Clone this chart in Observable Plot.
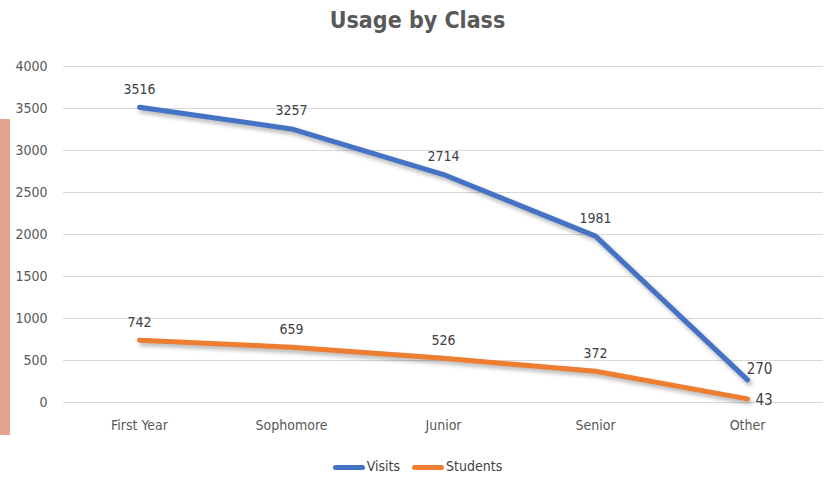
<!DOCTYPE html>
<html>
<head>
<meta charset="utf-8">
<script src="https://cdn.jsdelivr.net/npm/d3@7"></script>
<script src="https://cdn.jsdelivr.net/npm/@observablehq/plot@0.6"></script>
<style>
  body { margin: 0; background: #fff; width: 835px; height: 479px; overflow: hidden; position: relative;
         font-family: "DejaVu Sans Condensed", "Liberation Sans Narrow", sans-serif; }
  #title { height: 40px; line-height: 40px; text-align: center; font-size: 23px; font-weight: bold; color: #595959; }
  #bar { position: absolute; left: 0; top: 119px; width: 10px; height: 316px; background: #E5A191; }
  #legend { position: absolute; top: 458px; left: 0; width: 835px; text-align: center; font-size: 14px; color: #404040; }
  #legend span.sw { display: inline-block; width: 32px; height: 5px; border-radius: 3px; vertical-align: middle; margin-right: 2px; }
  #legend span.item { margin: 0 4px; }
  .ln { filter: drop-shadow(2px 3px 2px rgba(0,0,0,0.3)); }
</style>
</head>
<body>
<div id="bar"></div>
<div id="title">Usage by Class</div>
<div id="chart"></div>
<div id="legend">
  <span class="item"><span class="sw" style="background:#4472C4"></span>Visits</span>
  <span class="item"><span class="sw" style="background:#ED7D31"></span>Students</span>
</div>
<script>
const categories = ["First Year", "Sophomore", "Junior", "Senior", "Other"];
const visits = [3516, 3257, 2714, 1981, 270];
const students = [742, 659, 526, 372, 43];
const yTicks = [0, 500, 1000, 1500, 2000, 2500, 3000, 3500, 4000];
const seriesNames = ["Visits", "Students"];
const colors = ["#4472C4", "#ED7D31"];

const data = [];
categories.forEach((c, i) => {
  data.push({cat: c, series: "Visits", value: visits[i]});
  data.push({cat: c, series: "Students", value: students[i]});
});
const last = categories[categories.length - 1];

const chart = Plot.plot({
  width: 835,
  height: 410,
  marginLeft: 63,
  marginRight: 12,
  marginTop: 26,
  marginBottom: 48,
  style: {fontFamily: '"DejaVu Sans Condensed", "Liberation Sans Narrow", sans-serif', fontSize: "14px", color: "#595959"},
  x: {type: "point", domain: categories, padding: 0.5, label: null},
  y: {domain: [0, 4000], ticks: yTicks, label: null},
  color: {domain: seriesNames, range: colors},
  marks: [
    Plot.ruleY(yTicks, {stroke: "#d9d9d9", strokeWidth: 1}),
    Plot.axisY({ticks: yTicks, tickFormat: d3.format("d"), tickSize: 0, tickPadding: 16, label: null, fontSize: 14}),
    Plot.axisX({tickSize: 0, tickPadding: 18, label: null, fontSize: 14}),
    Plot.line(data, {x: "cat", y: "value", z: "series", stroke: "series", strokeWidth: 5,
      curve: "linear", strokeLinecap: "round", strokeLinejoin: "round", className: "ln"}),
    Plot.text(data.filter(d => d.cat !== last), {x: "cat", y: "value", text: d => String(d.value),
      dy: -18, fill: "#404040", fontSize: 14}),
    Plot.text(data.filter(d => d.cat === last && d.series === "Visits"), {x: "cat", y: "value", text: d => String(d.value),
      dx: 12, dy: -11, fill: "#404040", fontSize: 15, textAnchor: "middle"}),
    Plot.text(data.filter(d => d.cat === last && d.series === "Students"), {x: "cat", y: "value", text: d => String(d.value),
      dx: 8, dy: 1, fill: "#404040", fontSize: 15, textAnchor: "start"})
  ]
});
document.getElementById("chart").appendChild(chart);
</script>
</body>
</html>
